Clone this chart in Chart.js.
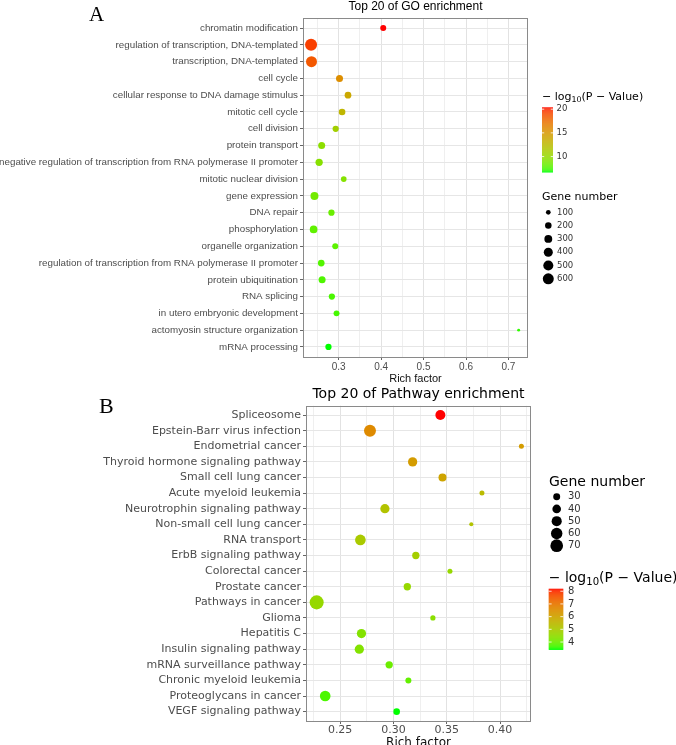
<!DOCTYPE html>
<html>
<head>
<meta charset="utf-8">
<script src="https://cdn.jsdelivr.net/npm/chart.js@4.4.0/dist/chart.umd.min.js"></script>
<style>
  body { margin: 0; background: #fff; }
  #wrap { position: relative; width: 676px; height: 745px; overflow: hidden; }
  canvas { position: absolute; left: 0; }
</style>
</head>
<body>
<div id="wrap">
  <canvas id="goChart" width="676" height="386" style="top:0"></canvas>
  <canvas id="keggChart" width="676" height="359" style="top:386px"></canvas>
</div>
<script>
// ---- GO enrichment (panel A) ----
const goTerms = [
  'chromatin modification',
  'regulation of transcription, DNA-templated',
  'transcription, DNA-templated',
  'cell cycle',
  'cellular response to DNA damage stimulus',
  'mitotic cell cycle',
  'cell division',
  'protein transport',
  'negative regulation of transcription from RNA polymerase II promoter',
  'mitotic nuclear division',
  'gene expression',
  'DNA repair',
  'phosphorylation',
  'organelle organization',
  'regulation of transcription from RNA polymerase II promoter',
  'protein ubiquitination',
  'RNA splicing',
  'in utero embryonic development',
  'actomyosin structure organization',
  'mRNA processing'
];
const goRichFactor = [0.405, 0.235, 0.236, 0.302, 0.322, 0.308, 0.293, 0.260, 0.254, 0.312,
                      0.243, 0.283, 0.241, 0.292, 0.259, 0.261, 0.284, 0.295, 0.724, 0.276];
const goGeneNumber = [170, 720, 600, 235, 215, 210, 185, 235, 255, 150,
                      310, 185, 285, 170, 215, 235, 185, 165, 35, 185];
const goLogP = [20.4, 19.4, 18.5, 15.6, 13.8, 12.8, 10.8, 9.6, 9.4, 9.3,
                8.6, 8.3, 8.0, 7.9, 7.7, 7.6, 7.5, 7.4, 7.1, 6.8];
const goXTicks = [0.3, 0.4, 0.5, 0.6, 0.7];
const goXGrid = [0.25, 0.3, 0.35, 0.4, 0.45, 0.5, 0.55, 0.6, 0.65, 0.7];
const goSizeBreaks = [100, 200, 300, 400, 500, 600];
const goColorBreaks = [10, 15, 20];

// ---- KEGG pathway enrichment (panel B) ----
const keggTerms = [
  'Spliceosome',
  'Epstein-Barr virus infection',
  'Endometrial cancer',
  'Thyroid hormone signaling pathway',
  'Small cell lung cancer',
  'Acute myeloid leukemia',
  'Neurotrophin signaling pathway',
  'Non-small cell lung cancer',
  'RNA transport',
  'ErbB signaling pathway',
  'Colorectal cancer',
  'Prostate cancer',
  'Pathways in cancer',
  'Glioma',
  'Hepatitis C',
  'Insulin signaling pathway',
  'mRNA surveillance pathway',
  'Chronic myeloid leukemia',
  'Proteoglycans in cancer',
  'VEGF signaling pathway'
];
const keggRichFactor = [0.344, 0.278, 0.420, 0.318, 0.346, 0.383, 0.292, 0.373, 0.269, 0.321,
                        0.353, 0.313, 0.228, 0.337, 0.270, 0.268, 0.296, 0.314, 0.236, 0.303];
const keggGeneNumber = [49, 64, 20, 44, 36, 20, 44, 16, 54, 32,
                        20, 32, 82, 21, 44, 44, 32, 25, 54, 28];
const keggLogP = [8.2, 6.6, 6.2, 6.2, 6.0, 5.4, 5.2, 5.2, 5.0, 4.9,
                  4.6, 4.6, 4.6, 4.4, 4.3, 4.3, 4.0, 3.9, 3.7, 3.45];
const keggXTicks = [0.25, 0.30, 0.35, 0.40];
const keggXGrid = [0.225, 0.25, 0.275, 0.30, 0.325, 0.35, 0.375, 0.40, 0.425];
const keggSizeBreaks = [30, 40, 50, 60, 70];
const keggColorBreaks = [4, 5, 6, 7, 8];

// green -> red gradient, interpolated in Lab like ggplot does
function toLab(rgb) {
  const lin = c => { c /= 255; return c <= 0.04045 ? c / 12.92 : Math.pow((c + 0.055) / 1.055, 2.4); };
  const R = lin(rgb[0]), G = lin(rgb[1]), B = lin(rgb[2]);
  const X = (0.4124 * R + 0.3576 * G + 0.1805 * B) / 0.95047;
  const Y = 0.2126 * R + 0.7152 * G + 0.0722 * B;
  const Z = (0.0193 * R + 0.1192 * G + 0.9505 * B) / 1.08883;
  const f = t => t > 0.008856 ? Math.cbrt(t) : 7.787 * t + 16 / 116;
  return [116 * f(Y) - 16, 500 * (f(X) - f(Y)), 200 * (f(Y) - f(Z))];
}
function fromLab(lab) {
  const fy = (lab[0] + 16) / 116, fx = fy + lab[1] / 500, fz = fy - lab[2] / 200;
  const inv = t => t * t * t > 0.008856 ? t * t * t : (t - 16 / 116) / 7.787;
  const X = inv(fx) * 0.95047, Y = inv(fy), Z = inv(fz) * 1.08883;
  const r = 3.2406 * X - 1.5372 * Y - 0.4986 * Z;
  const g = -0.9689 * X + 1.8758 * Y + 0.0415 * Z;
  const b = 0.0557 * X - 0.2040 * Y + 1.0570 * Z;
  const gam = c => {
    c = c <= 0.0031308 ? 12.92 * c : 1.055 * Math.pow(c, 1 / 2.4) - 0.055;
    return Math.round(Math.min(1, Math.max(0, c)) * 255);
  };
  return `rgb(${gam(r)},${gam(g)},${gam(b)})`;
}
const LOW_LAB = toLab([0, 255, 0]);
const HIGH_LAB = toLab([255, 0, 0]);
function gradientColor(v, lo, hi) {
  const t = Math.min(1, Math.max(0, (v - lo) / (hi - lo)));
  return fromLab(LOW_LAB.map((l, k) => l + (HIGH_LAB[k] - l) * t));
}

// point radius in px from gene number
const goRadius = v => (0.36 + 0.434 * Math.sqrt(v)) / 2;
const keggRadius = v => Math.max(1.5, (-3.8 + 1.97 * Math.sqrt(v)) / 2);

// titles, panel letter, border and the two guides
const guidesPlugin = {
  id: 'guides',
  afterDatasetsDraw(chart, args, o) {
    const { ctx, chartArea: a } = chart;
    ctx.save();
    ctx.strokeStyle = '#8a8a8a';
    ctx.lineWidth = 1;
    ctx.strokeRect(Math.round(a.left) + 0.5, Math.round(a.top) + 0.5,
      Math.round(a.right - a.left) - 1, Math.round(a.bottom - a.top));
    ctx.restore();
  },
  afterDraw(chart, args, o) {
    const ctx = chart.ctx;
    const a = chart.chartArea;
    ctx.save();
    ctx.textBaseline = 'middle';
    ctx.fillStyle = '#000';

    ctx.font = o.letter.font;
    ctx.textAlign = 'left';
    ctx.fillText(o.letter.text, o.letter.x, o.letter.y);

    ctx.font = o.title.font;
    ctx.textAlign = 'center';
    ctx.fillText(o.title.text, (a.left + a.right) / 2, o.title.y);

    // colour bar
    const cb = o.colorbar;
    ctx.textAlign = 'left';
    let x = cb.x;
    ctx.font = `${cb.titleSize}px "DejaVu Sans"`;
    ctx.fillText('\u2212 log', x, cb.titleY);
    x += ctx.measureText('\u2212 log').width;
    ctx.font = `${cb.titleSize * 0.72}px "DejaVu Sans"`;
    ctx.fillText('10', x, cb.titleY + cb.titleSize * 0.3);
    x += ctx.measureText('10').width;
    ctx.font = `${cb.titleSize}px "DejaVu Sans"`;
    ctx.fillText('(P \u2212 Value)', x, cb.titleY);

    const lo = cb.range[0], hi = cb.range[1];
    const h = cb.bottom - cb.top;
    for (let i = 0; i < h; i++) {
      const v = hi - (i + 0.5) / h * (hi - lo);
      ctx.fillStyle = gradientColor(v, lo, hi);
      ctx.fillRect(cb.x, cb.top + i, cb.w, 1.2);
    }
    ctx.font = cb.labelFont;
    cb.breaks.forEach(b => {
      const y = cb.top + (hi - b) / (hi - lo) * h;
      ctx.strokeStyle = 'rgba(255,255,255,0.8)';
      ctx.lineWidth = 1;
      ctx.beginPath();
      ctx.moveTo(cb.x, y); ctx.lineTo(cb.x + cb.w / 5, y);
      ctx.moveTo(cb.x + cb.w, y); ctx.lineTo(cb.x + cb.w * 4 / 5, y);
      ctx.stroke();
      ctx.fillStyle = '#333';
      ctx.fillText(String(b), cb.labelX, y);
    });

    // size legend
    const sz = o.sizes;
    ctx.fillStyle = '#000';
    ctx.font = `${sz.titleSize}px "DejaVu Sans"`;
    ctx.fillText('Gene number', sz.titleX, sz.titleY);
    sz.breaks.forEach((b, i) => {
      const y = sz.y0 + i * sz.dy;
      ctx.fillStyle = '#000';
      ctx.beginPath();
      ctx.arc(sz.x, y, sz.radius(b), 0, Math.PI * 2);
      ctx.fill();
      ctx.fillStyle = '#333';
      ctx.font = sz.labelFont;
      ctx.fillText(String(b), sz.labelX, y);
    });
    ctx.restore();
  }
};

function makeChart(id, c) {
  const lo = Math.min(...c.logP), hi = Math.max(...c.logP);
  c.guides.colorbar.range = [lo, hi];
  return new Chart(document.getElementById(id), {
    type: 'bubble',
    data: {
      datasets: [{
        data: c.terms.map((t, i) => ({ x: c.rich[i], y: i, r: c.radius(c.genes[i]) })),
        backgroundColor: c.logP.map(v => gradientColor(v, lo, hi)),
        borderWidth: 0
      }]
    },
    options: {
      responsive: false,
      animation: false,
      devicePixelRatio: 1,
      layout: { padding: c.padding },
      plugins: {
        legend: { display: false },
        tooltip: { enabled: false },
        guides: c.guides
      },
      scales: {
        x: {
          type: 'linear',
          min: c.xMin, max: c.xMax,
          afterBuildTicks: s => { s.ticks = c.xGrid.map(v => ({ value: v })); },
          afterFit: s => { s.height = c.xHeight; },
          ticks: {
            autoSkip: false, maxRotation: 0, padding: c.xTickPad,
            color: '#4d4d4d', font: c.tickFont,
            callback: v => c.xTicks.includes(v) ? v.toFixed(c.decimals) : ''
          },
          grid: {
            color: ctx => c.xTicks.includes(ctx.tick.value) ? '#e2e2e2' : '#efefef',
            tickColor: ctx => c.xTicks.includes(ctx.tick.value) ? '#666' : 'rgba(0,0,0,0)',
            tickLength: 3
          },
          border: { display: false },
          title: {
            display: true, text: 'Rich factor', color: '#111',
            font: c.axisTitleFont, padding: { top: 0, bottom: c.axisTitlePad }
          }
        },
        y: {
          type: 'linear',
          reverse: true,
          min: -0.6, max: c.terms.length - 0.4,
          afterBuildTicks: s => { s.ticks = c.terms.map((t, i) => ({ value: i })); },
          afterFit: s => { s.width = c.yWidth; },
          ticks: {
            autoSkip: false, padding: 2,
            color: '#4d4d4d', font: c.labelFont,
            callback: v => c.terms[v]
          },
          grid: { color: '#e6e6e6', tickColor: '#666', tickLength: 3 },
          border: { display: false }
        }
      }
    },
    plugins: [guidesPlugin]
  });
}

makeChart('goChart', {
  terms: goTerms, rich: goRichFactor, genes: goGeneNumber, logP: goLogP,
  radius: goRadius, xTicks: goXTicks, xGrid: goXGrid, decimals: 1,
  xMin: 0.216, xMax: 0.746,
  padding: { left: 0, right: 148, top: 18, bottom: 0 },
  yWidth: 303, xHeight: 29, xTickPad: 1, axisTitlePad: 0.5,
  labelFont: { family: '"Liberation Sans", Arial', size: 9.8 },
  tickFont: { family: '"Liberation Sans", Arial', size: 10 },
  axisTitleFont: { family: '"Liberation Sans", Arial', size: 11 },
  guides: {
    letter: { text: 'A', x: 89, y: 15, font: '21px "Liberation Serif"' },
    title: { text: 'Top 20 of GO enrichment', y: 7, font: '12px "Liberation Sans"' },
    colorbar: { x: 542, w: 11, top: 107.3, bottom: 171.7, breaks: goColorBreaks,
                titleX: 542, titleY: 97, titleSize: 11, labelX: 556.5,
                labelFont: '8.5px "DejaVu Sans"' },
    sizes: { titleX: 542, titleY: 197, titleSize: 11, breaks: goSizeBreaks,
             x: 548.3, y0: 212.3, dy: 13.3, radius: goRadius, labelX: 557,
             labelFont: '8.5px "DejaVu Sans"' }
  }
});

makeChart('keggChart', {
  terms: keggTerms, rich: keggRichFactor, genes: keggGeneNumber, logP: keggLogP,
  radius: keggRadius, xTicks: keggXTicks, xGrid: keggXGrid, decimals: 2,
  xMin: 0.218, xMax: 0.429,
  padding: { left: 0, right: 145, top: 19.7, bottom: 0 },
  yWidth: 306, xHeight: 24, xTickPad: 0, axisTitlePad: -5,
  labelFont: { family: '"DejaVu Sans"', size: 11 },
  tickFont: { family: '"DejaVu Sans"', size: 11 },
  axisTitleFont: { family: '"DejaVu Sans"', size: 12 },
  guides: {
    letter: { text: 'B', x: 99, y: 21, font: '22px "Liberation Serif"' },
    title: { text: 'Top 20 of Pathway enrichment', y: 8, font: '14px "DejaVu Sans"' },
    colorbar: { x: 548.7, w: 14.6, top: 202.7, bottom: 263, breaks: keggColorBreaks,
                titleX: 549, titleY: 192.3, titleSize: 14, labelX: 568,
                labelFont: '10px "DejaVu Sans"' },
    sizes: { titleX: 549, titleY: 96.7, titleSize: 14, breaks: keggSizeBreaks,
             x: 556.7, y0: 110.7, dy: 12.25, radius: keggRadius, labelX: 568,
             labelFont: '10px "DejaVu Sans"' }
  }
});
</script>
</body>
</html>
